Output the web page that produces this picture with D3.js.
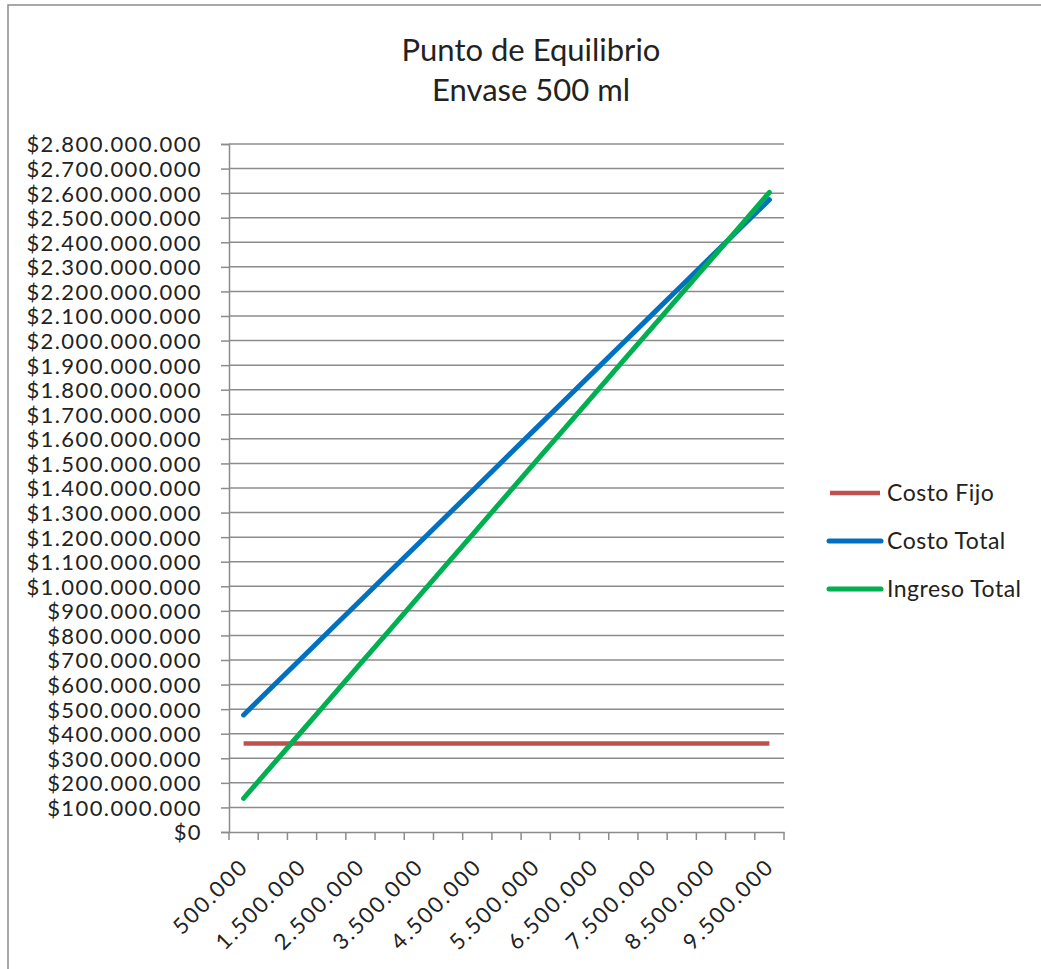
<!DOCTYPE html>
<html>
<head>
<meta charset="utf-8">
<script src="https://cdn.jsdelivr.net/npm/d3@7"></script>
<style>
  html, body { margin: 0; padding: 0; background: #fff; }
  svg { display: block; }
  text { font-family: Lato, "Open Sans", sans-serif; fill: #222; }
</style>
</head>
<body>
<svg id="chart" width="1041" height="969"></svg>
<script>
const categories = ["500.000","1.000.000","1.500.000","2.000.000","2.500.000","3.000.000","3.500.000","4.000.000","4.500.000","5.000.000","5.500.000","6.000.000","6.500.000","7.000.000","7.500.000","8.000.000","8.500.000","9.000.000","9.500.000"];
const costoFijo = [360000000,360000000,360000000,360000000,360000000,360000000,360000000,360000000,360000000,360000000,360000000,360000000,360000000,360000000,360000000,360000000,360000000,360000000,360000000];
const costoTotal = [476500000,593000000,709500000,826000000,942500000,1059000000,1175500000,1292000000,1408500000,1525000000,1641500000,1758000000,1874500000,1991000000,2107500000,2224000000,2340500000,2457000000,2573500000];
const ingresoTotal = [137000000,274000000,411000000,548000000,685000000,822000000,959000000,1096000000,1233000000,1370000000,1507000000,1644000000,1781000000,1918000000,2055000000,2192000000,2329000000,2466000000,2603000000];
const yTicks = [0,100000000,200000000,300000000,400000000,500000000,600000000,700000000,800000000,900000000,1000000000,1100000000,1200000000,1300000000,1400000000,1500000000,1600000000,1700000000,1800000000,1900000000,2000000000,2100000000,2200000000,2300000000,2400000000,2500000000,2600000000,2700000000,2800000000];
const seriesNames = ["Costo Fijo","Costo Total","Ingreso Total"];
const seriesColors = ["#C0504D","#0070C0","#00B050"];

const svg = d3.select("#chart");
const L = 229, R = 784, T = 144, B = 832;
const gray = "#8c8c8c";

// outer border
svg.append("rect").attr("x", 8).attr("y", 5).attr("width", 1100).attr("height", 1100)
  .attr("fill", "none").attr("stroke", gray).attr("stroke-width", 1.5);

// title
svg.append("text").attr("x", 531).attr("y", 61).attr("text-anchor", "middle")
  .style("font-size", "31px").text("Punto de Equilibrio");
svg.append("text").attr("x", 531).attr("y", 101).attr("text-anchor", "middle")
  .style("font-size", "31px").text("Envase 500 ml");

const x = d3.scaleBand().domain(categories).range([L, R]).padding(0);
const y = d3.scaleLinear().domain([0, 2800000000]).range([B, T]);

const fmt = v => "$" + d3.format(",")(v).replace(/,/g, ".");

// gridlines
svg.append("g").selectAll("line").data(yTicks.filter(d => d > 0)).join("line")
  .attr("x1", L).attr("x2", R).attr("y1", d => y(d)).attr("y2", d => y(d))
  .attr("stroke", gray).attr("stroke-width", 1.5);

// y axis
const yAxis = svg.append("g").attr("transform", `translate(${L},0)`)
  .call(d3.axisLeft(y).tickValues(yTicks).tickSize(8).tickPadding(19).tickFormat(fmt));
yAxis.select(".domain").attr("stroke", gray).attr("stroke-width", 1.5);
yAxis.selectAll(".tick line").attr("stroke", gray).attr("stroke-width", 1.5);
yAxis.selectAll(".tick text").style("font-size", "22px").style("font-family", "Lato, sans-serif")
  .style("letter-spacing", "1.4px").attr("fill", "#2a2a2a").attr("dy", "0.36em");

// x axis
const xAxis = svg.append("g").attr("transform", `translate(0,${B})`)
  .call(d3.axisBottom(x).tickSize(0).tickFormat((d, i) => i % 2 === 0 ? d : ""));
xAxis.select(".domain").attr("stroke", gray).attr("stroke-width", 1.5);
// tick marks at band boundaries
const bounds = categories.map(c => x(c)).concat([R]);
svg.append("g").selectAll("line").data(bounds).join("line")
  .attr("x1", d => d).attr("x2", d => d).attr("y1", B).attr("y2", B + 8)
  .attr("stroke", gray).attr("stroke-width", 1.5);
xAxis.selectAll(".tick text")
  .style("font-size", "22px").style("font-family", "Lato, sans-serif")
  .style("letter-spacing", "2px").attr("fill", "#2a2a2a")
  .attr("text-anchor", "end")
  .attr("transform", "translate(6,36) rotate(-45)")
  .attr("dy", "0").attr("y", 0).attr("x", 0);

// lines
const allSeries = [costoFijo, costoTotal, ingresoTotal];
const line = d3.line().x((d, i) => x(categories[i]) + x.bandwidth() / 2).y(d => y(d));
allSeries.forEach((s, k) => {
  svg.append("path").datum(s).attr("d", line).attr("fill", "none")
    .attr("stroke", seriesColors[k]).attr("stroke-width", k === 0 ? 4.5 : 5)
    .attr("stroke-linecap", k === 0 ? "butt" : "round").attr("stroke-linejoin", "round");
});

// legend
const lg = svg.append("g");
seriesNames.forEach((n, k) => {
  const yy = 493 + k * 48;
  lg.append("line").attr("x1", k === 0 ? 830 : 829).attr("x2", k === 0 ? 880 : 881)
    .attr("y1", yy).attr("y2", yy).attr("stroke", seriesColors[k])
    .attr("stroke-width", k === 0 ? 4.5 : 5).attr("stroke-linecap", k === 0 ? "butt" : "round");
  lg.append("text").attr("x", 887).attr("y", yy).attr("dy", "0.35em")
    .style("font-size", "23px").style("letter-spacing", "0.5px").text(n);
});
</script>
</body>
</html>
